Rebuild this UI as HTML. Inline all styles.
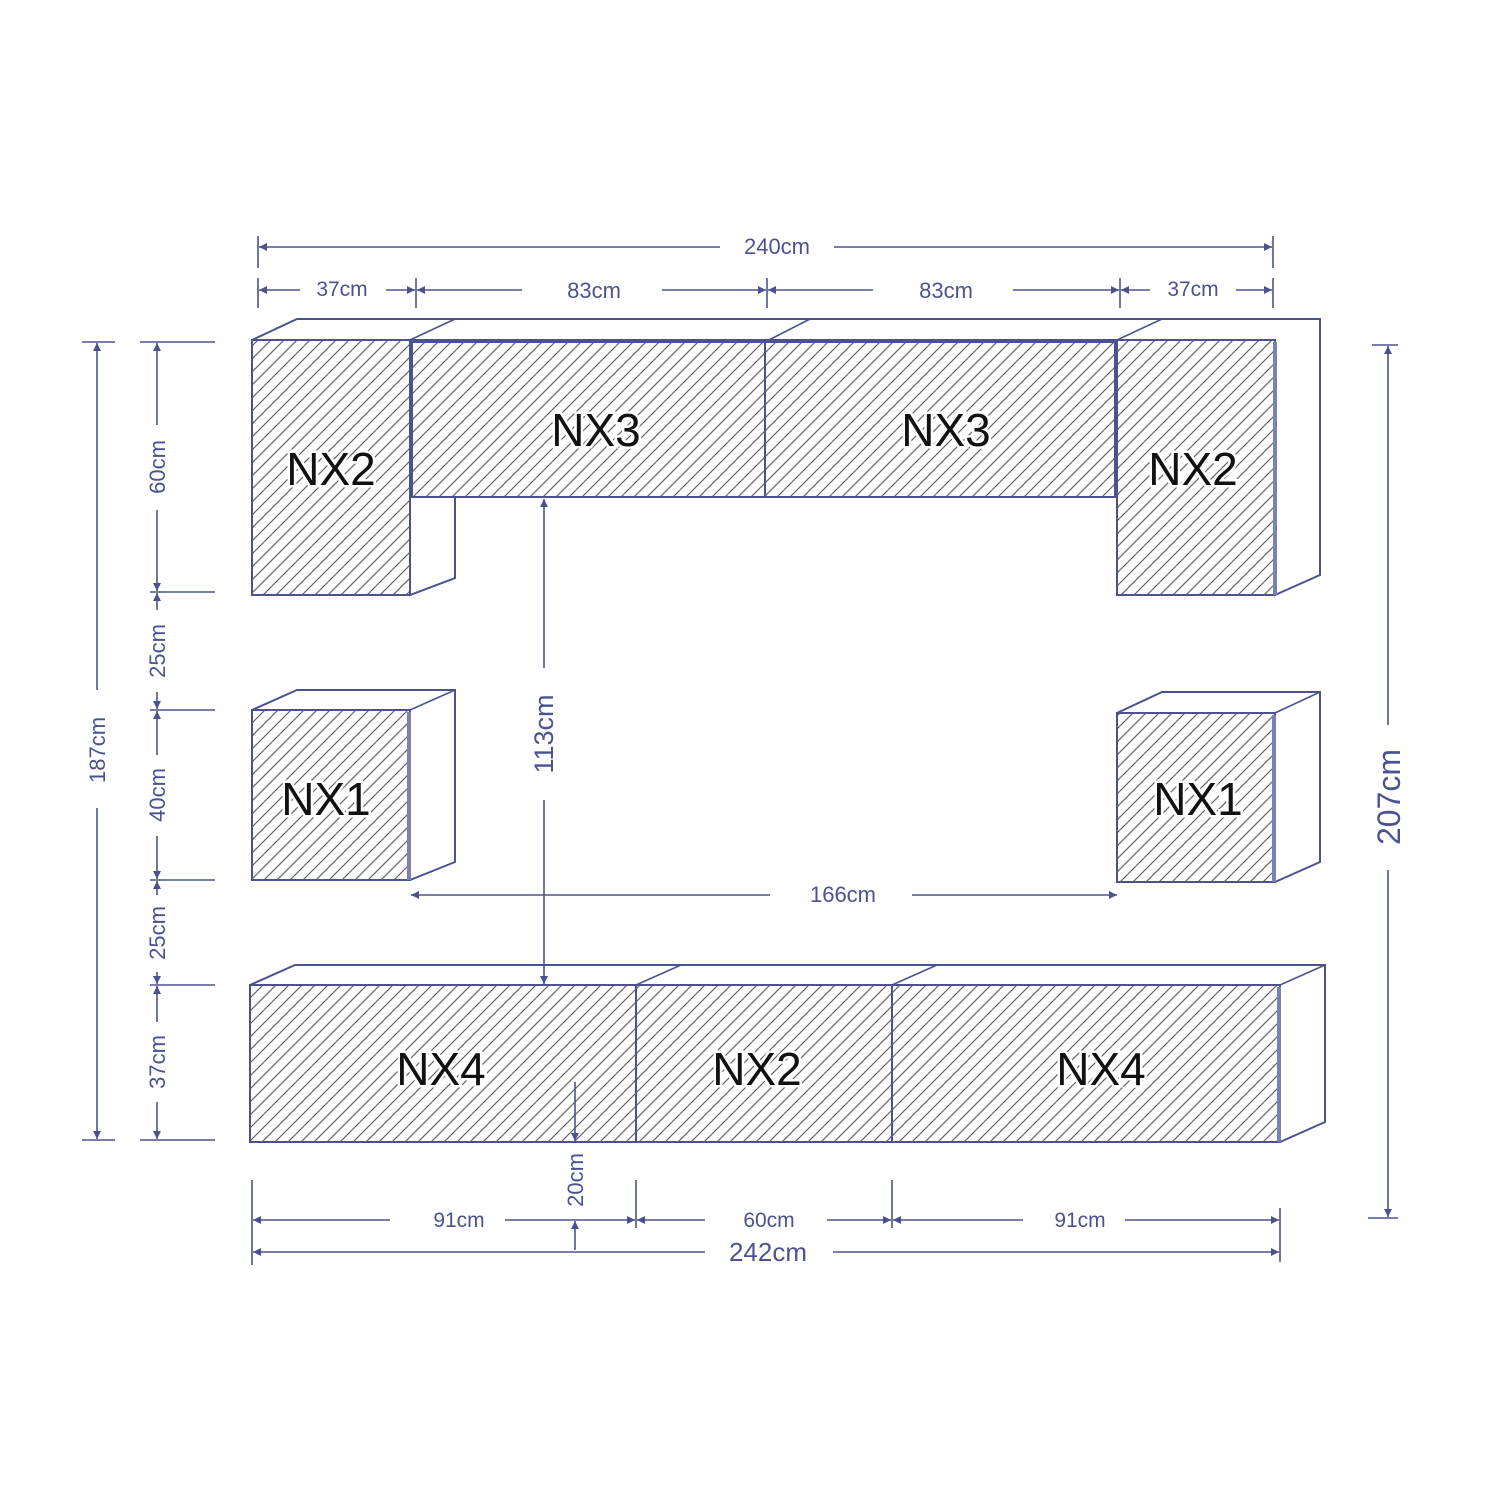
<!DOCTYPE html>
<html><head><meta charset="utf-8"><style>
html,body{margin:0;padding:0;background:#fff;}
svg{display:block;}
.d{stroke:#4c5290;stroke-width:1.6;fill:none;}
.b{stroke:#4c5290;stroke-width:2;fill:#fff;}
.h{stroke:#4c5290;stroke-width:2;fill:url(#hatch);}
.t{font-family:"Liberation Sans",sans-serif;fill:#4c5290;font-size:22px;text-anchor:middle;}
.n{font-family:"Liberation Sans",sans-serif;fill:#111;font-size:46px;text-anchor:middle;stroke:#fff;stroke-width:5;paint-order:stroke;}
</style></head><body>
<svg width="1500" height="1500" viewBox="0 0 1500 1500" xmlns="http://www.w3.org/2000/svg">
<defs>
<pattern id="hatch" patternUnits="userSpaceOnUse" width="13" height="13">
<rect width="13" height="13" fill="#fff"/>
<path d="M-2,2 L2,-2 M0,13 L13,0 M11,15 L15,11" stroke="#666" stroke-width="1.2"/>
</pattern>
<marker id="a" viewBox="0 0 10 10" refX="10" refY="5" markerWidth="13" markerHeight="8" orient="auto-start-reverse" markerUnits="userSpaceOnUse">
<path d="M0,0 L10,5 L0,10 z" fill="#4c5290"/>
</marker>
</defs>

<!-- TOP ROW -->
<path class="b" d="M252,340 L297,319 L1320,319 L1320,575 L1275,595 L1275,340 Z"/>
<path class="d" d="M410,340 L455,319 M765,342 L810,319 M1117,340 L1162,319"/>
<path class="b" d="M410,497 L455,497 L455,578 L410,595 Z"/>
<rect class="h" x="252" y="340" width="158" height="255"/>
<rect class="h" x="412" y="342" width="353" height="155"/>
<rect class="h" x="765" y="342" width="350" height="155"/>
<rect class="h" x="1117" y="340" width="158" height="255"/>
<line x1="1275" y1="342" x2="1275" y2="595" stroke="#7a80b8" stroke-width="4"/>
<text class="n" x="331" y="485">NX2</text>
<text class="n" x="596" y="446">NX3</text>
<text class="n" x="946" y="446">NX3</text>
<text class="n" x="1193" y="485">NX2</text>

<!-- MIDDLE -->
<path class="b" d="M252,710 L297,690 L455,690 L455,862 L410,880 L252,880 Z"/>
<path class="d" d="M410,710 L455,690"/>
<rect class="h" x="252" y="710" width="158" height="170"/>
<line x1="409" y1="712" x2="409" y2="880" stroke="#7a80b8" stroke-width="4"/>
<text class="n" x="326" y="815">NX1</text>

<path class="b" d="M1117,713 L1162,692 L1320,692 L1320,862 L1275,882 L1117,882 Z"/>
<path class="d" d="M1275,713 L1320,692"/>
<rect class="h" x="1117" y="713" width="158" height="169"/>
<line x1="1274" y1="715" x2="1274" y2="882" stroke="#7a80b8" stroke-width="4"/>
<text class="n" x="1198" y="815">NX1</text>

<!-- BOTTOM -->
<path class="b" d="M250,985 L295,965 L1325,965 L1325,1122 L1280,1142 L250,1142 Z"/>
<path class="d" d="M636,985 L681,965 M892,985 L937,965 M1280,985 L1325,965"/>
<rect class="h" x="250" y="985" width="386" height="157"/>
<rect class="h" x="636" y="985" width="256" height="157"/>
<rect class="h" x="892" y="985" width="388" height="157"/>
<line x1="1279" y1="987" x2="1279" y2="1142" stroke="#7a80b8" stroke-width="4"/>
<text class="n" x="441" y="1085">NX4</text>
<text class="n" x="757" y="1085">NX2</text>
<text class="n" x="1101" y="1085">NX4</text>

<!-- TOP DIMENSIONS -->
<path class="d" d="M258,236 V268 M1273,236 V268 M258,278 V308 M416,278 V308 M767,278 V308 M1120,278 V308 M1273,278 V308"/>
<line class="d" x1="259" y1="247" x2="720" y2="247" marker-start="url(#a)"/>
<line class="d" x1="834" y1="247" x2="1272" y2="247" marker-end="url(#a)"/>
<text class="t" x="777" y="254">240cm</text>
<line class="d" x1="259" y1="290" x2="300" y2="290" marker-start="url(#a)"/>
<line class="d" x1="386" y1="290" x2="415" y2="290" marker-end="url(#a)"/>
<text class="t" x="342" y="296" style="font-size:21px">37cm</text>
<line class="d" x1="417" y1="290" x2="522" y2="290" marker-start="url(#a)"/>
<line class="d" x1="662" y1="290" x2="766" y2="290" marker-end="url(#a)"/>
<text class="t" x="594" y="298">83cm</text>
<line class="d" x1="768" y1="290" x2="873" y2="290" marker-start="url(#a)"/>
<line class="d" x1="1013" y1="290" x2="1119" y2="290" marker-end="url(#a)"/>
<text class="t" x="946" y="298">83cm</text>
<line class="d" x1="1121" y1="290" x2="1150" y2="290" marker-start="url(#a)"/>
<line class="d" x1="1236" y1="290" x2="1272" y2="290" marker-end="url(#a)"/>
<text class="t" x="1193" y="296" style="font-size:21px">37cm</text>

<!-- LEFT DIMENSIONS -->
<path class="d" d="M82,342 H115 M82,1140 H115 M140,342 H215 M150,592 H215 M150,710 H215 M150,880 H215 M150,985 H215 M140,1140 H215"/>
<line class="d" x1="97" y1="343" x2="97" y2="690" marker-start="url(#a)"/>
<line class="d" x1="97" y1="808" x2="97" y2="1139" marker-end="url(#a)"/>
<text class="t" transform="translate(105,750) rotate(-90)">187cm</text>
<line class="d" x1="157" y1="343" x2="157" y2="425" marker-start="url(#a)"/>
<line class="d" x1="157" y1="510" x2="157" y2="591" marker-end="url(#a)"/>
<text class="t" transform="translate(165,467) rotate(-90)">60cm</text>
<line class="d" x1="157" y1="593" x2="157" y2="610" marker-start="url(#a)"/>
<line class="d" x1="157" y1="692" x2="157" y2="709" marker-end="url(#a)"/>
<text class="t" transform="translate(165,651) rotate(-90)">25cm</text>
<line class="d" x1="157" y1="711" x2="157" y2="755" marker-start="url(#a)"/>
<line class="d" x1="157" y1="836" x2="157" y2="879" marker-end="url(#a)"/>
<text class="t" transform="translate(165,795) rotate(-90)">40cm</text>
<line class="d" x1="157" y1="881" x2="157" y2="895" marker-start="url(#a)"/>
<line class="d" x1="157" y1="972" x2="157" y2="984" marker-end="url(#a)"/>
<text class="t" transform="translate(165,933) rotate(-90)">25cm</text>
<line class="d" x1="157" y1="986" x2="157" y2="1022" marker-start="url(#a)"/>
<line class="d" x1="157" y1="1102" x2="157" y2="1139" marker-end="url(#a)"/>
<text class="t" transform="translate(165,1062) rotate(-90)">37cm</text>

<!-- 113cm -->
<line class="d" x1="544" y1="499" x2="544" y2="668" marker-start="url(#a)"/>
<line class="d" x1="544" y1="800" x2="544" y2="984" marker-end="url(#a)"/>
<text class="t" transform="translate(553,734) rotate(-90)" style="font-size:27px">113cm</text>

<!-- 166cm -->
<line class="d" x1="411" y1="895" x2="770" y2="895" marker-start="url(#a)"/>
<line class="d" x1="912" y1="895" x2="1117" y2="895" marker-end="url(#a)"/>
<text class="t" x="843" y="902">166cm</text>

<!-- 207cm -->
<path class="d" d="M1372,345 H1398 M1368,1218 H1398"/>
<line class="d" x1="1388" y1="346" x2="1388" y2="725" marker-start="url(#a)"/>
<line class="d" x1="1388" y1="870" x2="1388" y2="1217" marker-end="url(#a)"/>
<text class="t" transform="translate(1400,797) rotate(-90)" style="font-size:32px">207cm</text>

<!-- BOTTOM DIMENSIONS -->
<path class="d" d="M252,1180 V1265 M636,1180 V1228 M892,1180 V1228 M1280,1208 V1262"/>
<line class="d" x1="253" y1="1220" x2="390" y2="1220" marker-start="url(#a)"/>
<line class="d" x1="505" y1="1220" x2="635" y2="1220" marker-end="url(#a)"/>
<text class="t" x="459" y="1227" style="font-size:21px">91cm</text>
<line class="d" x1="637" y1="1220" x2="705" y2="1220" marker-start="url(#a)"/>
<line class="d" x1="827" y1="1220" x2="891" y2="1220" marker-end="url(#a)"/>
<text class="t" x="769" y="1227" style="font-size:21px">60cm</text>
<line class="d" x1="893" y1="1220" x2="1023" y2="1220" marker-start="url(#a)"/>
<line class="d" x1="1125" y1="1220" x2="1279" y2="1220" marker-end="url(#a)"/>
<text class="t" x="1080" y="1227" style="font-size:21px">91cm</text>
<line class="d" x1="253" y1="1252" x2="705" y2="1252" marker-start="url(#a)"/>
<line class="d" x1="833" y1="1252" x2="1279" y2="1252" marker-end="url(#a)"/>
<text class="t" x="768" y="1261" style="font-size:26px">242cm</text>
<!-- 20cm -->
<line class="d" x1="575" y1="1082" x2="575" y2="1141" marker-end="url(#a)"/>
<line class="d" x1="575" y1="1250" x2="575" y2="1221" marker-end="url(#a)"/>
<text class="t" transform="translate(583,1180) rotate(-90)">20cm</text>
</svg>
</body></html>
